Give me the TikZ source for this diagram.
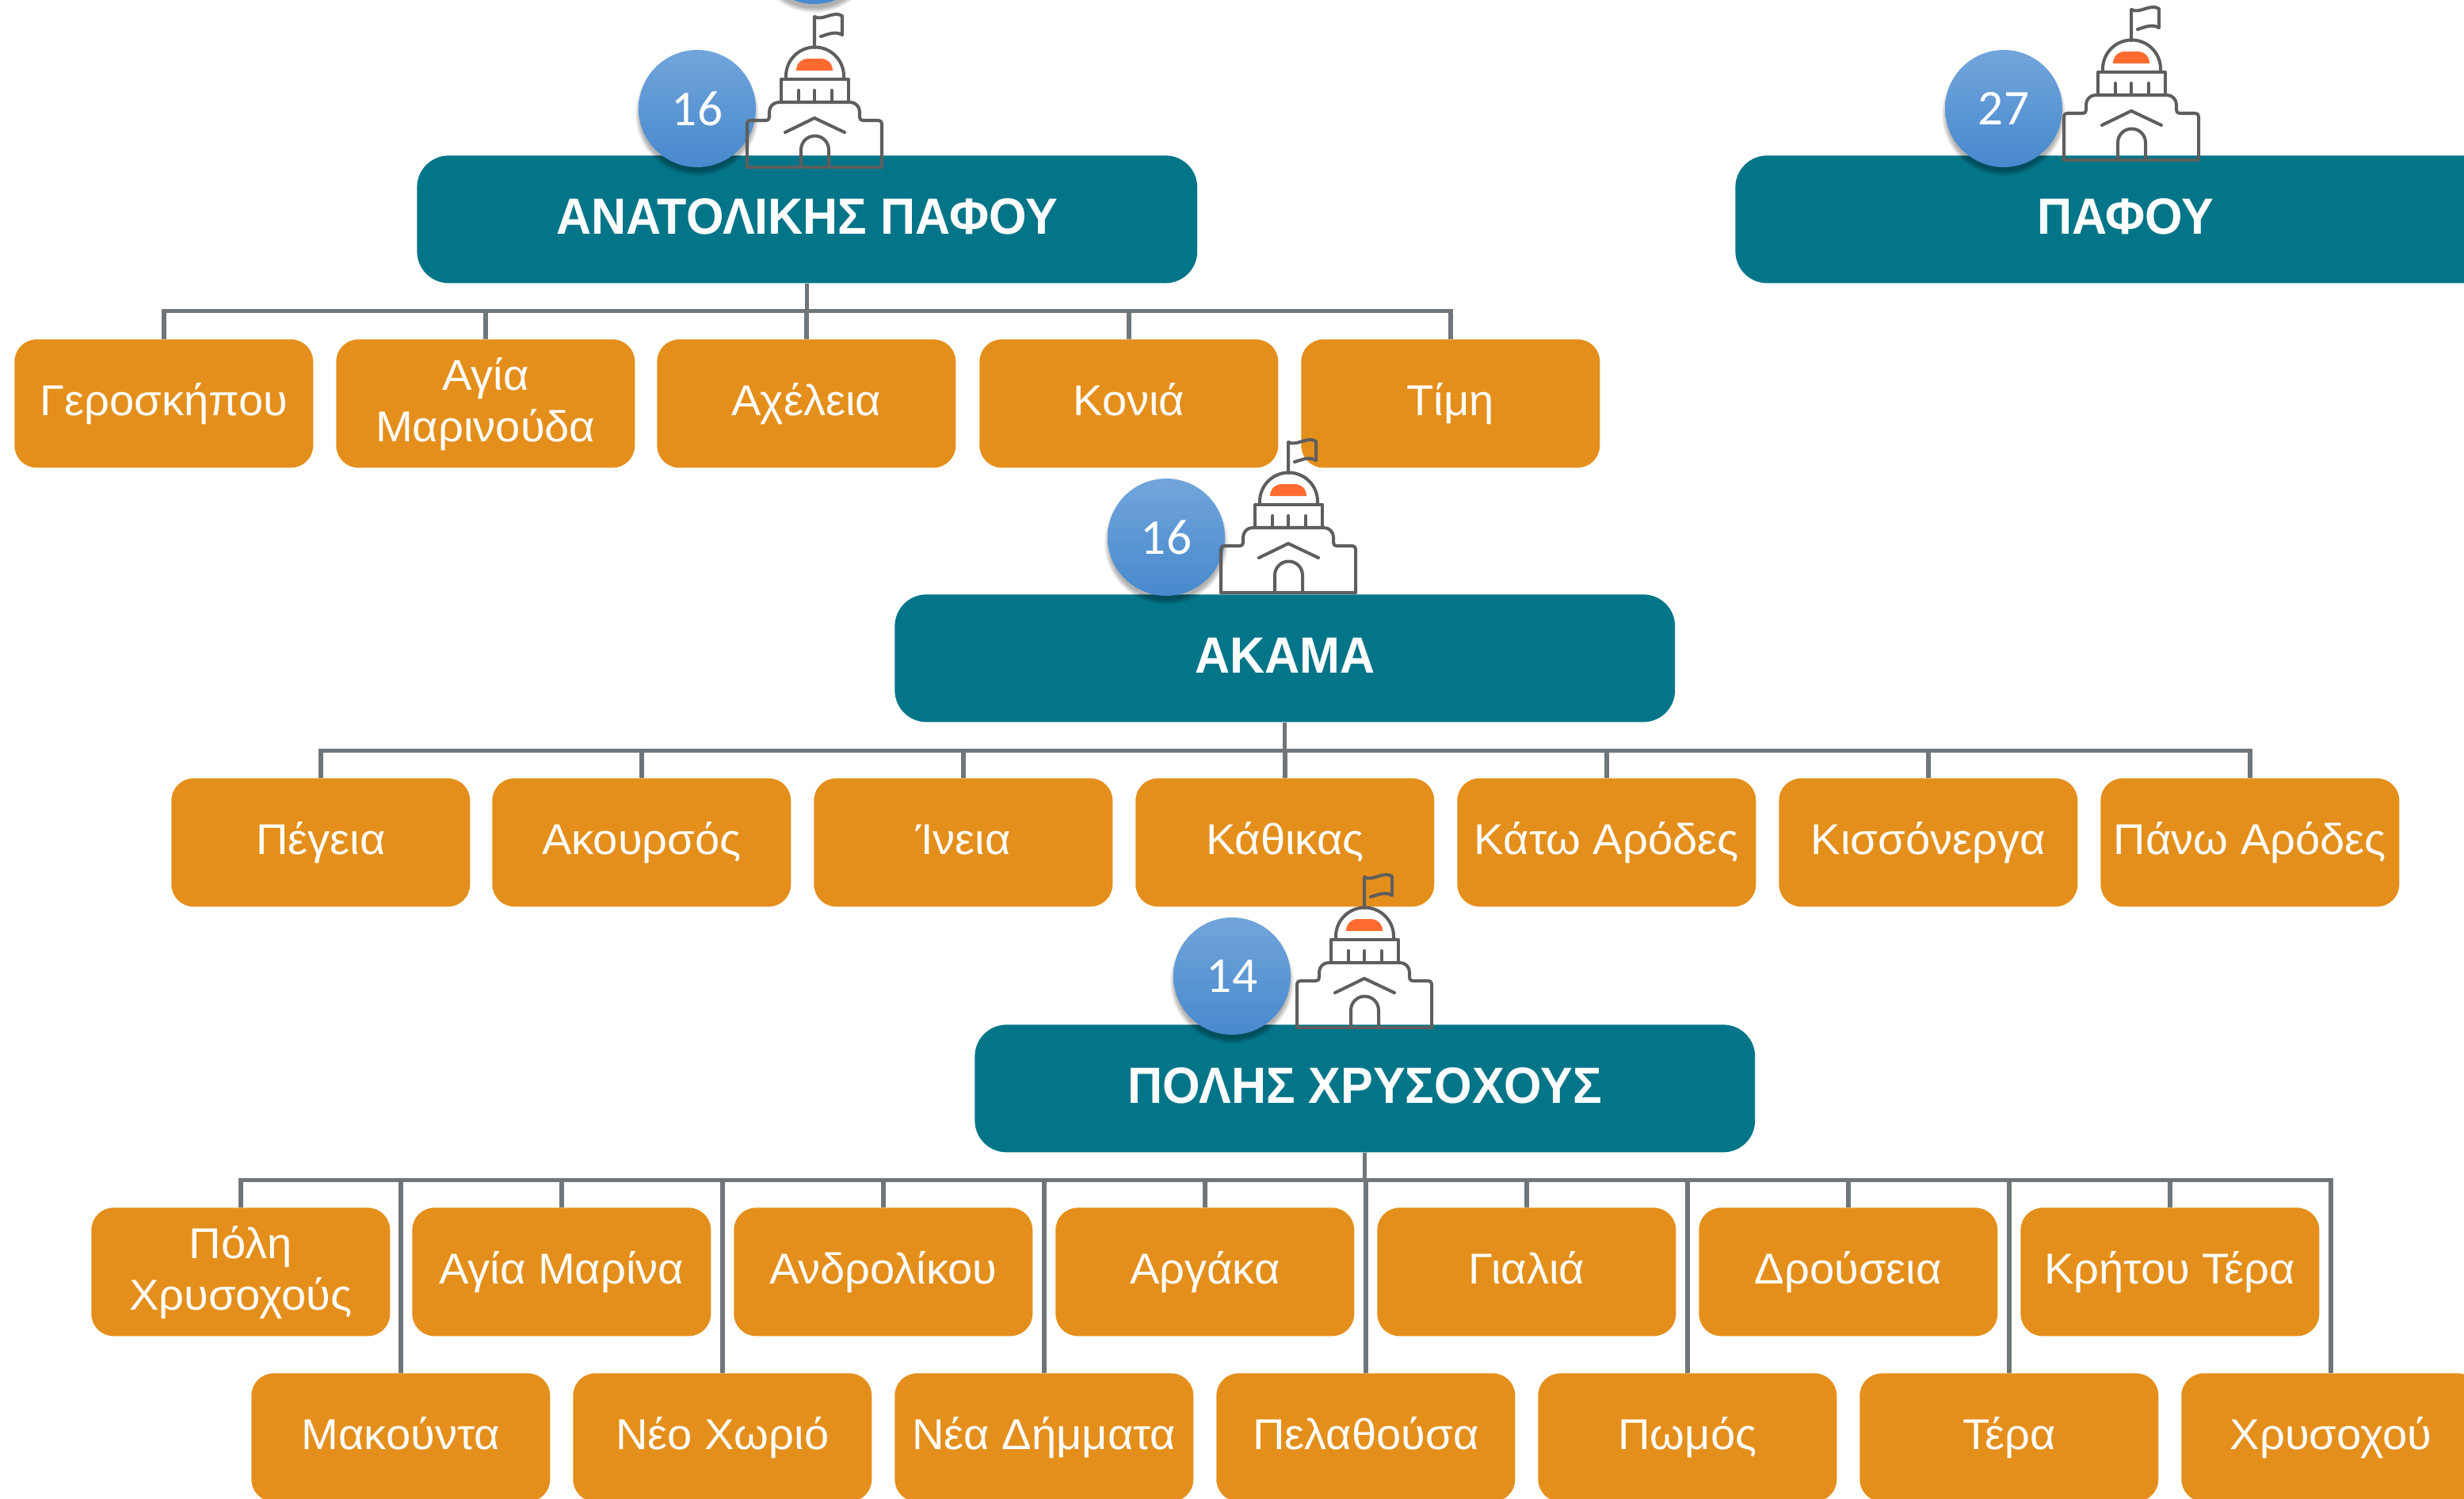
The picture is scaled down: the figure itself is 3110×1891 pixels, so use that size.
\documentclass[tikz,border=0pt]{standalone}
\usepackage{fontspec}
\setmainfont{Liberation Sans}
\newfontfamily\leaffont{Liberation Sans}[FakeStretch=1.03]
\newfontfamily\headfont{Liberation Sans}[FakeStretch=0.95]
\newfontfamily\numfont{Carlito}
\usetikzlibrary{calc}
\definecolor{teal1}{HTML}{037588}
\definecolor{orange1}{HTML}{E48F1B}
\definecolor{conn}{HTML}{70757A}
\definecolor{icong}{HTML}{5E5E5E}
\definecolor{domer}{HTML}{FF6B2F}
\definecolor{ballT}{HTML}{72A5DB}
\definecolor{ballB}{HTML}{4789CD}
\pgfdeclarelayer{bg}
\pgfsetlayers{bg,main}
\newcommand{\lt}{\rule{0pt}{31pt}}
\newcommand{\ld}{\rule[-13.5pt]{0pt}{13.5pt}}
\newcommand{\hs}{\rule[-12pt]{0pt}{45.5pt}}
\tikzset{
 x=0.02cm,y=-0.02cm,
 head/.style={fill=teal1,rounded corners=0.8cm,minimum width=19.7cm,minimum height=3.22cm,inner sep=0pt,text=white,font=\headfont\bfseries\fontsize{36.6}{44}\selectfont,anchor=north west},
 leaf/.style={fill=orange1,rounded corners=0.56cm,minimum width=7.54cm,minimum height=3.24cm,inner sep=0pt,text=white,align=center,font=\leaffont\fontsize{31}{37}\selectfont,anchor=north west},
 link/.style={draw=conn,line width=3.1pt},
 ic/.style={draw=icong,line width=2.3pt,line join=round,line cap=round},
 badge/.style={circle,minimum size=2.96cm,inner sep=0pt,text=white,top color=ballT,bottom color=ballB,font=\numfont\fontsize{36}{42}\selectfont},
}
\newcommand{\bld}[2]{%
 \begin{scope}[shift={(#1,#2)}]
  \fill[domer] (-23,-122) .. controls (-23,-132) and (-15,-137) .. (-8,-137) -- (8,-137) .. controls (15,-137) and (23,-132) .. (23,-122) -- cycle;
  \draw[ic] (-85,0)--(85,0);
  \draw[ic,rounded corners=0.08cm] (-85,0)--(-85,-59)--(-57,-59)--(-57,-70);
  \draw[ic,rounded corners=0.08cm] (85,0)--(85,-59)--(57,-59)--(57,-70);
  \draw[ic] (-57,-70) arc[start angle=180,end angle=270,radius=12]--(45,-82) arc[start angle=270,end angle=360,radius=12];
  \draw[ic] (-42,-82)--(-42,-111)--(43,-111)--(43,-82);
  \draw[ic] (-36,-111)--(-36,-115) arc[start angle=180,end angle=360,radius=36.5]--(37,-111);
  \draw[ic] (-20,-97)--(-20,-82) (0,-97)--(0,-82) (22,-97)--(22,-82);
  \draw[ic] (0,-151)--(0,-190) .. controls (10,-184) and (24,-198) .. (35,-191)--(35,-167) .. controls (26,-172) and (18,-168) .. (8,-165);
  \draw[ic] (-37,-44)--(0,-62)--(38,-44);
  \draw[ic] (-17,0)--(-17,-22) arc[start angle=180,end angle=360,radius=17.5]--(18,0);
 \end{scope}}
\newcommand{\ball}[4]{%
 \foreach \r in {78,77,76,75,74,73,72}{\fill[black,opacity=0.05] (#1,#2+7) circle[radius=\r];}
 \node[badge] (#3) at (#1,#2) {#4};}
\begin{document}
\begin{tikzpicture}
\useasboundingbox (0,0) rectangle (3110,1891);
\node[head] (h1) at (526,196) {\hs ΑΝΑΤΟΛΙΚΗΣ ΠΑΦΟΥ};
\node[head] (h2) at (2190,196) {\hs ΠΑΦΟΥ};
\node[head] (h3) at (1129,750) {\hs ΑΚΑΜΑ};
\node[head] (h4) at (1230,1293) {\hs ΠΟΛΗΣ ΧΡΥΣΟΧΟΥΣ};
\foreach \n/\xx/\t in {a1/18/Γεροσκήπου,a2/424/{Αγία\\Μαρινούδα},a3/829/Αχέλεια,a4/1236/Κονιά,a5/1642/Τίμη}
  \node[leaf] (\n) at (\xx,428) {\lt\t\ld};
\foreach \n/\xx/\t in {b1/216/Πέγεια,b2/621/Ακουρσός,b3/1027/Ίνεια,b4/1433/Κάθικας,b5/1839/Κάτω Αρόδες,b6/2245/Κισσόνεργα,b7/2651/Πάνω Αρόδες}
  \node[leaf] (\n) at (\xx,982) {\lt\t\ld};
\foreach \n/\xx/\t in {c1/115/{Πόλη\\Χρυσοχούς},c2/520/Αγία Μαρίνα,c3/926/Ανδρολίκου,c4/1332/Αργάκα,c5/1738/Γιαλιά,c6/2144/Δρούσεια,c7/2550/Κρήτου Τέρα}
  \node[leaf] (\n) at (\xx,1524) {\lt\t\ld};
\foreach \n/\xx/\t in {d1/317/Μακούντα,d2/723/Νέο Χωριό,d3/1129/Νέα Δήμματα,d4/1535/Πελαθούσα,d5/1941/Πωμός,d6/2347/Τέρα,d7/2753/Χρυσοχού}
  \node[leaf] (\n) at (\xx,1733) {\lt\t\ld};
\begin{pgfonlayer}{bg}
 \foreach \c in {a1,a2,a3,a4,a5} \draw[link] (h1.south) -- ++(0,35) -| (\c.north);
 \foreach \c in {b1,b2,b3,b4,b5,b6,b7} \draw[link] (h3.south) -- ++(0,36) -| (\c.north);
 \foreach \c in {c1,c2,c3,c4,c5,c6,c7,d1,d2,d3,d4,d5,d6,d7} \draw[link] (h4.south) -- ++(0,35) -| (\c.north);
\end{pgfonlayer}
\ball{1028}{-69}{top}{}
\ball{880}{137}{n1}{16}
\ball{2529}{137}{n2}{27}
\ball{1472}{678}{n3}{16}
\ball{1555}{1232}{n4}{14}
\bld{1028}{211}
\bld{2690}{202}
\bld{1626}{748}
\bld{1722}{1297}
\end{tikzpicture}
\end{document}
